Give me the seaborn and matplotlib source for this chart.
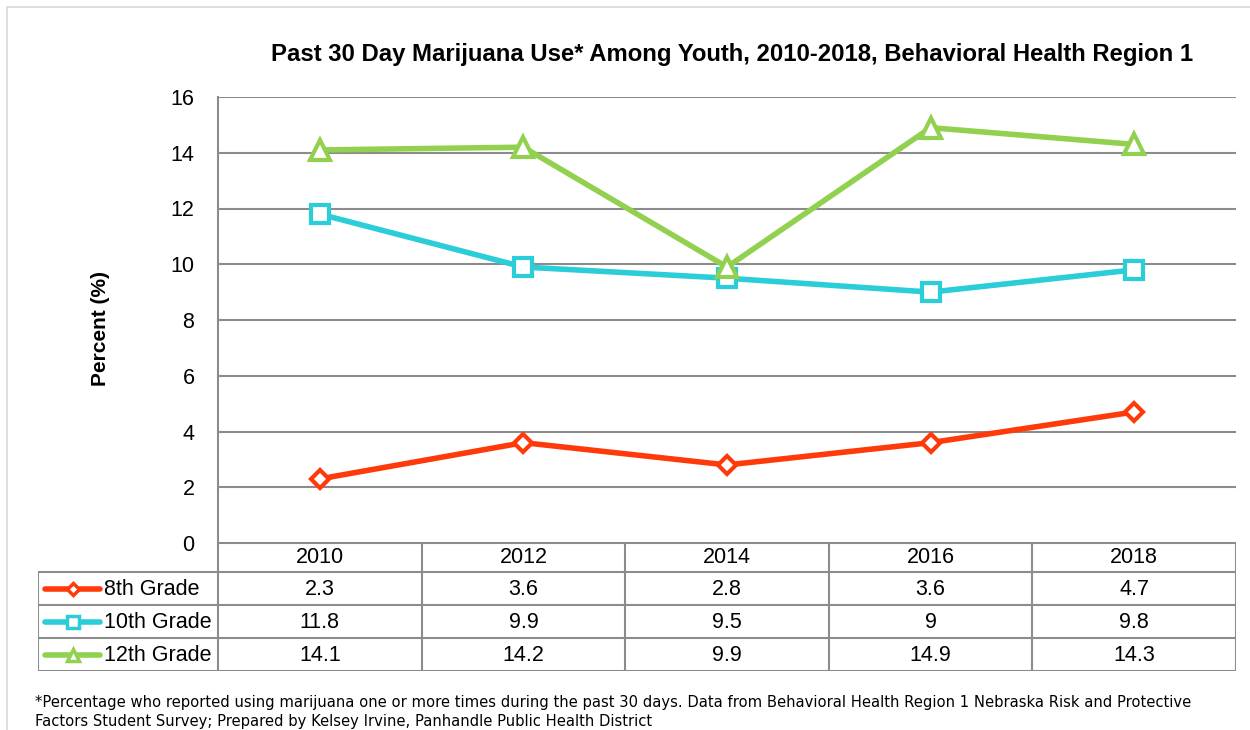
import matplotlib
matplotlib.use("Agg")
import matplotlib.pyplot as plt
import seaborn as sns
import pandas as pd
from matplotlib.lines import Line2D
from matplotlib.patches import Rectangle

years = ["2010", "2012", "2014", "2016", "2018"]
grades = ["8th Grade", "10th Grade", "12th Grade"]
grade8 = [2.3, 3.6, 2.8, 3.6, 4.7]
grade10 = [11.8, 9.9, 9.5, 9, 9.8]
grade12 = [14.1, 14.2, 9.9, 14.9, 14.3]
y_ticks = [0, 2, 4, 6, 8, 10, 12, 14, 16]

title = "Past 30 Day Marijuana Use* Among Youth, 2010-2018, Behavioral Health Region 1"
ylabel = "Percent (%)"
footnote = ("*Percentage who reported using marijuana one or more times during the past 30 days. "
            "Data from Behavioral Health Region 1 Nebraska Risk and Protective\n"
            "Factors Student Survey; Prepared by Kelsey Irvine, Panhandle Public Health District")

colors = ["#FF3A0A", "#2BCDD8", "#92D050"]
markers = ["D", "s", "^"]
msizes = [9, 13, 14]

series = [grade8, grade10, grade12]
df = pd.DataFrame({
    "Year": years * 3,
    "Grade": [g for g in grades for _ in years],
    "Value": grade8 + grade10 + grade12,
})

sns.set_theme(style="white")
plt.rcParams["font.family"] = ["Liberation Sans", "DejaVu Sans"]
plt.rcParams["text.color"] = "black"
plt.rcParams["ytick.color"] = "black"
plt.rcParams["ytick.labelcolor"] = "black"

W, H = 1250, 730
fig = plt.figure(figsize=(W / 100, H / 100), dpi=100)

def fx(px):
    return px / W

def fy(py):
    return 1 - py / H

# outer chart frame
fig.add_artist(Rectangle((fx(7), -0.05), 1.1, fy(7) + 0.05, transform=fig.transFigure,
                         fill=False, edgecolor="#D9D9D9", lw=1.2))

ax = fig.add_axes([fx(218), fy(543), fx(1236) - fx(218), fy(97) - fy(543)])
grid_c = "#8C8C8C"
for g, c, m, ms in zip(grades, colors, markers, msizes):
    sub = df[df["Grade"] == g]
    sns.lineplot(data=sub, x="Year", y="Value", ax=ax, color=c, lw=4, marker=m,
                 markersize=ms, markerfacecolor="white", markeredgecolor=c,
                 markeredgewidth=3, sort=False, legend=False, zorder=3)

ax.set_xlim(-0.5, len(years) - 0.5)
ax.set_ylim(0, 16)
ax.set_yticks(y_ticks)
ax.set_yticklabels([str(t) for t in y_ticks], fontsize=15.5, color="black")
ax.set_xticks([])
ax.set_xlabel("")
ax.set_ylabel("")
ax.yaxis.grid(True, color=grid_c, lw=1.5)
ax.tick_params(axis="y", length=0, pad=17)
for s in ["top", "right", "bottom"]:
    ax.spines[s].set_visible(False)
ax.spines["left"].set_color(grid_c)
ax.spines["left"].set_linewidth(1.5)

fig.text(fx(100), fy(329), ylabel, rotation=90, ha="center", va="center",
         fontsize=15, fontweight="bold", color="black")
fig.text(fx(732), fy(55), title, ha="center", va="center", fontsize=17.2,
         fontweight="bold", color="black")

# data table
tax = fig.add_axes([fx(38), fy(671), fx(1236) - fx(38), fy(543) - fy(671)])
lead = 180 / ((1236 - 218) / len(years))
tax.set_xlim(-0.5 - lead, len(years) - 0.5)
tax.set_ylim(128, 0)
tax.axis("off")
lc = "#8C8C8C"
lw = 1.5
rows = [0, 29, 62, 95, 128]
# horizontal lines
tax.add_line(Line2D([-0.5, len(years) - 0.5], [0, 0], color=lc, lw=lw))
for r in rows[1:]:
    tax.add_line(Line2D([-0.5 - lead, len(years) - 0.5], [r, r], color=lc, lw=lw))
# vertical lines
tax.add_line(Line2D([-0.5 - lead, -0.5 - lead], [29, 128], color=lc, lw=lw))
for i in range(len(years) + 1):
    tax.add_line(Line2D([i - 0.5, i - 0.5], [0, 128], color=lc, lw=lw))
for i, yv in enumerate(years):
    tax.text(i, 14.5, yv, ha="center", va="center", fontsize=15.5, color="black")
for r, (g, vals, c, m, ms) in enumerate(zip(grades, series, colors, markers, msizes)):
    yc = (rows[r + 1] + rows[r + 2]) / 2
    for i, v in enumerate(vals):
        tax.text(i, yc + 1, f"{v:g}", ha="center", va="center", fontsize=15.5, color="black")
    x0 = -0.5 - lead + 7 / 203.6
    x1 = -0.5 - lead + 62 / 203.6
    tax.add_line(Line2D([x0, x1], [yc, yc], color=c, lw=4, solid_capstyle="round"))
    tax.add_line(Line2D([(x0 + x1) / 2], [yc], color=c, marker=m, markersize=ms * 0.65,
                        markerfacecolor="white", markeredgecolor=c, markeredgewidth=2.5))
    tax.text(-0.5 - lead + 66 / 203.6, yc + 1, g, ha="left", va="center", fontsize=15.5,
             color="black")

fig.text(fx(35), fy(712), footnote, ha="left", va="center", fontsize=10.6,
         family=["DejaVu Sans"], linespacing=1.3, color="black")

fig.savefig("out.png", dpi=100)
